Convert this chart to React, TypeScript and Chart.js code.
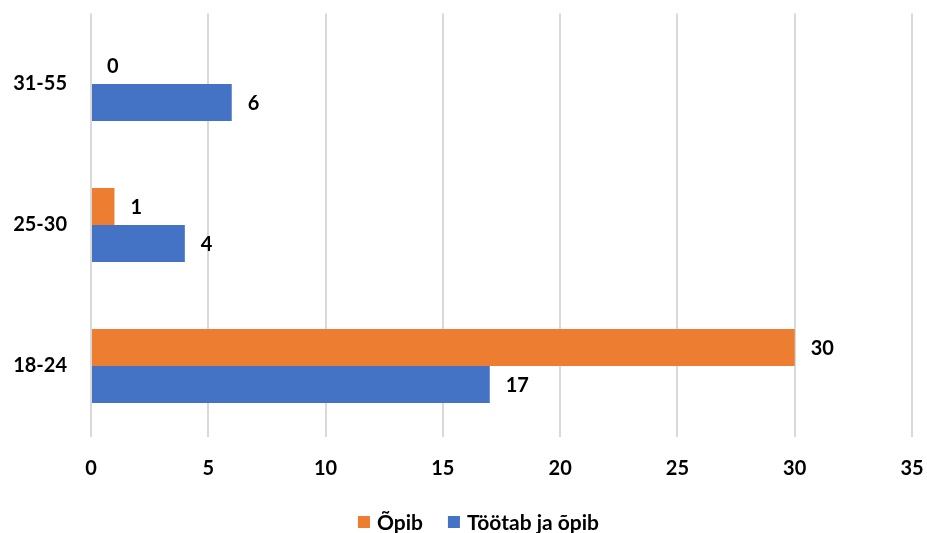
import React, { useEffect, useRef } from 'react';
import { Chart, registerables } from 'chart.js';

Chart.register(...registerables);

const categories = ['31-55', '25-30', '18-24'];
const seriesNames = ['Õpib', 'Töötab ja õpib'];
const opibValues = [0, 1, 30];
const tootabValues = [6, 4, 17];
const seriesColors = ['#ED7D31', '#4472C4'];
const xMax = 35;
const xStep = 5;

const FONT = 'Lato';
const FONT_SIZE = 20;
const LEGEND_FONT_SIZE = 21;
const FONT_WEIGHT = 'bold';

const dataLabelPlugin = {
  id: 'dataLabels',
  afterDatasetsDraw(chart: any) {
    const ctx = chart.ctx;
    ctx.save();
    ctx.font = `${FONT_WEIGHT} ${FONT_SIZE}px ${FONT}`;
    ctx.fillStyle = '#000';
    ctx.textAlign = 'left';
    ctx.textBaseline = 'middle';
    chart.data.datasets.forEach((ds: any, di: number) => {
      const meta = chart.getDatasetMeta(di);
      meta.data.forEach((el: any, i: number) => {
        ctx.fillText(String(ds.data[i]), el.x + 16, el.y + 1);
      });
    });
    ctx.restore();
  },
};

const legendPlugin = {
  id: 'customLegend',
  afterDraw(chart: any) {
    const ctx = chart.ctx;
    ctx.save();
    ctx.font = `${FONT_WEIGHT} ${LEGEND_FONT_SIZE}px ${FONT}`;
    ctx.textBaseline = 'middle';
    ctx.textAlign = 'left';
    const box = 12;
    const gapText = 7;
    const gapItem = 25;
    const items = chart.data.datasets.map((ds: any) => ({
      label: ds.label,
      color: ds.backgroundColor,
      w: ctx.measureText(ds.label).width,
    }));
    const total = items.reduce((s: number, it: any) => s + box + gapText + it.w, 0) + gapItem * (items.length - 1);
    let x = 478.5 - total / 2;
    const cy = 522;
    items.forEach((it: any) => {
      ctx.fillStyle = it.color;
      ctx.fillRect(x, cy - box / 2, box, box);
      x += box + gapText;
      ctx.fillStyle = '#000';
      ctx.fillText(it.label, x, cy + 1);
      x += it.w + gapItem;
    });
    ctx.restore();
  },
};

export default function App() {
  const ref = useRef<HTMLCanvasElement | null>(null);
  useEffect(() => {
    document.body.style.margin = '0';
    if (!ref.current) return;
    const chart = new Chart(ref.current, {
      type: 'bar',
      data: {
        labels: categories,
        datasets: [
          { label: seriesNames[0], data: opibValues, backgroundColor: seriesColors[0] },
          { label: seriesNames[1], data: tootabValues, backgroundColor: seriesColors[1] },
        ],
      },
      options: {
        indexAxis: 'y',
        responsive: false,
        animation: false,
        maintainAspectRatio: false,
        layout: { padding: { top: 13.5, right: 15, left: 0, bottom: 0 } },
        datasets: { bar: { barPercentage: 1, categoryPercentage: 0.525 } },
        plugins: {
          legend: { display: false },
          tooltip: { enabled: false },
        },
        scales: {
          x: {
            min: 0,
            max: xMax,
            ticks: {
              stepSize: xStep,
              color: '#000',
              padding: 0,
              font: { family: FONT, size: FONT_SIZE, weight: FONT_WEIGHT },
            },
            grid: {
              color: '#d9d9d9',
              lineWidth: 2,
              drawTicks: true,
              tickLength: 20,
              tickColor: 'rgba(0,0,0,0)',
            },
            border: { display: false },
            afterFit: (axis: any) => {
              axis.height = 96.5;
            },
          },
          y: {
            ticks: {
              color: '#000',
              padding: 0,
              font: { family: FONT, size: FONT_SIZE, weight: FONT_WEIGHT },
            },
            grid: {
              display: true,
              color: 'rgba(0,0,0,0)',
              drawTicks: true,
              tickLength: 24,
              tickColor: 'rgba(0,0,0,0)',
            },
            border: { display: false },
            afterFit: (axis: any) => {
              axis.width = 91;
            },
          },
        },
      },
      plugins: [dataLabelPlugin, legendPlugin],
    });
    return () => chart.destroy();
  }, []);
  return <canvas ref={ref} width={927} height={533} style={{ display: 'block' }} />;
}
